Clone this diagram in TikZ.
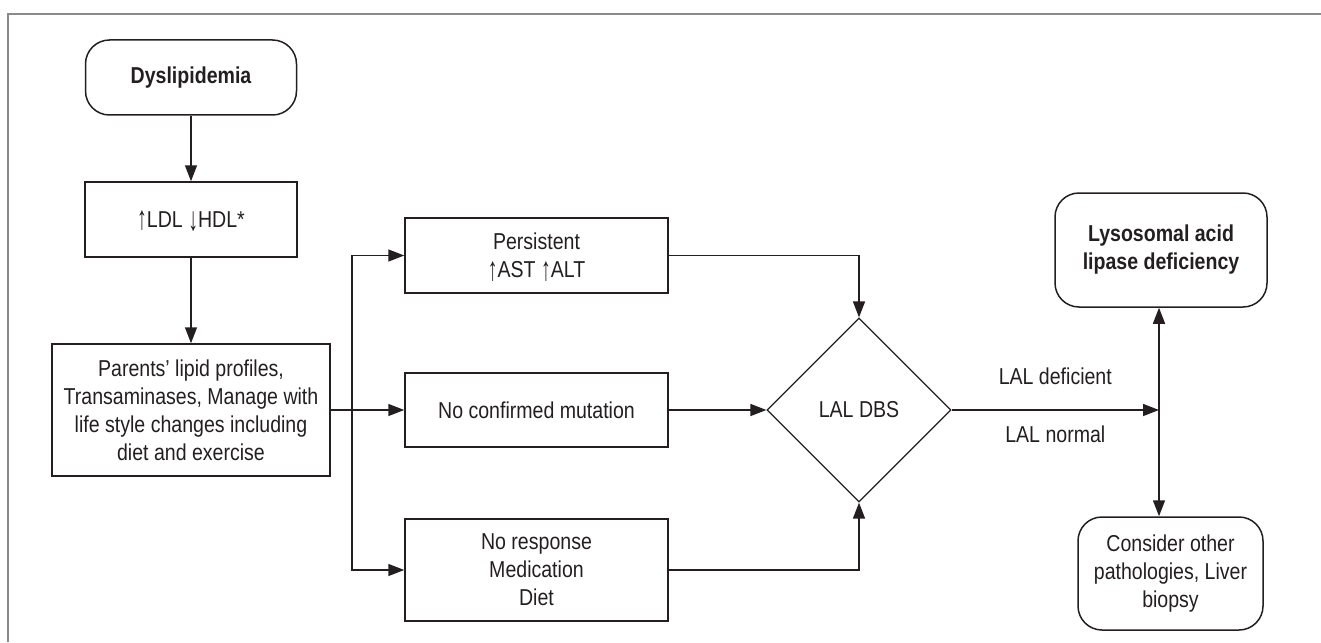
\documentclass[tikz,border=0pt]{standalone}
\usepackage{fontspec}
\setmainfont{Liberation Sans}[FakeStretch=0.85]
\usetikzlibrary{shapes.geometric,arrows.meta}
\definecolor{ink}{HTML}{231F20}
\definecolor{framec}{HTML}{8A8A8A}
\newcommand{\upar}{\smash{\raisebox{-0.1em}{\scalebox{1}[1.45]{↑}}}}
\newcommand{\dnar}{\smash{\raisebox{-0.15em}{\scalebox{1}[1.45]{↓}}}}
\begin{document}
\begin{tikzpicture}[x=0.5pt,y=-0.5pt,
  every node/.style={text=ink, font=\fontsize{11.5pt}{14pt}\selectfont, align=center, inner sep=0pt},
  bf/.style={font=\fontsize{11.5pt}{14pt}\selectfont\bfseries},
  box/.style={draw=ink, line width=0.75pt},
  rbox/.style={box, rounded corners=12pt},
  arr/.style={draw=ink, line width=0.75pt, -{Triangle[length=8pt,width=6pt]}},
  frameline/.style={draw=framec, line width=1pt}]

\useasboundingbox (0,0) rectangle (1321,642);
\draw[frameline] (8,642) -- (8,14) -- (1321,14);

\node[rbox, bf, minimum width=105.5pt, minimum height=37.5pt] (dys) at (191,77.5) {Dyslipidemia};
\node[box, minimum width=106pt, minimum height=37.5pt] (ldl) at (191,219.5) {\upar LDL \dnar HDL*};
\node[box, minimum width=139pt, minimum height=66pt] (par) at (191,410) {Parents’ lipid profiles,\\Transaminases, Manage with\\life style changes including\\diet and exercise};
\node[box, minimum width=131.5pt, minimum height=37.5pt] (pers) at (536.5,255.5) {Persistent\\\upar AST \upar ALT};
\node[box, minimum width=131.5pt, minimum height=37pt] (ncm) at (536.5,410) {No confirmed mutation};
\node[box, minimum width=131.5pt, minimum height=51pt] (nr) at (536.5,570) {No response\\Medication\\Diet};
\node[diamond, aspect=1, draw=ink, line width=0.6pt, minimum width=92pt, minimum height=92pt] (dia) at (859,410) {LAL DBS};
\node[rbox, bf, minimum width=106pt, minimum height=57pt] (lal) at (1161,250) {Lysosomal acid\\lipase deficiency};
\node[rbox, minimum width=92.5pt, minimum height=56.5pt] (con) at (1170.5,573.5) {Consider other\\pathologies, Liver\\biopsy};

\draw[arr] (dys) -- (ldl);
\draw[arr] (ldl) -- (par);
\draw[arr] (par.east) -- (ncm.west);
\coordinate (br) at (352,410);
\draw[arr] (br) |- (pers.west);
\draw[arr] (br) |- (nr.west);
\draw[arr] (pers.east) -| (dia.north);
\draw[arr] (ncm.east) -- (dia.west);
\draw[arr] (nr.east) -| (dia.south);
\coordinate (j) at (1159,410);
\draw[arr] (dia.east) -- node[midway, yshift=17pt] (ldef) {LAL deficient} node[midway, yshift=-12pt] (lnorm) {LAL normal} (j);
\draw[arr] (j) -- (j |- lal.south);
\draw[arr] (j) -- (j |- con.north);
\end{tikzpicture}
\end{document}
